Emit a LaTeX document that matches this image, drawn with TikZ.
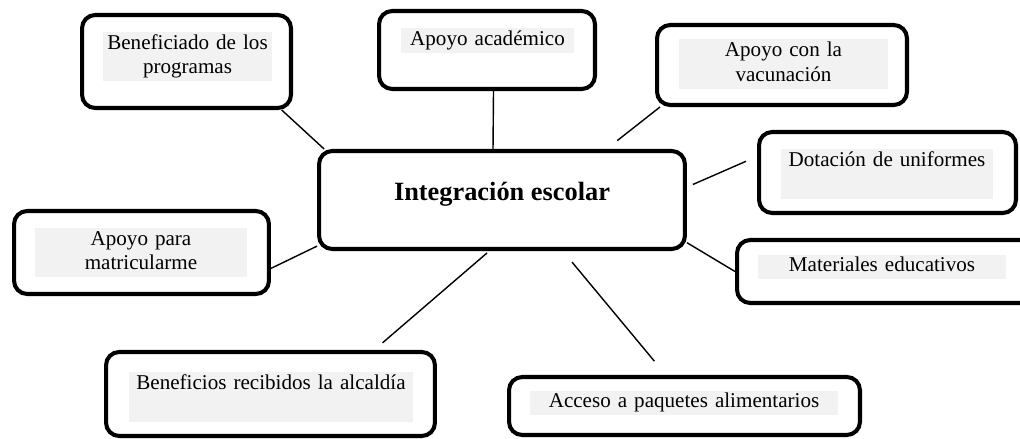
\documentclass[tikz,border=0pt]{standalone}
\usepackage{fontspec}
\setmainfont{Liberation Serif}
\usepackage{tikz}
\usetikzlibrary{positioning, calc}

\tikzset{
    bubble/.style={draw, line width=2.3pt, rounded corners=7.5pt, inner sep=0pt},
    tag/.style={fill=black!5, inner xsep=0pt, inner ysep=0pt, align=center, font=\fontsize{12}{14}\selectfont},
    spoke/.style={line width=0.8pt}
}

\begin{document}
\begin{tikzpicture}[x=0.02cm, y=-0.02cm]
    \useasboundingbox (0,0) rectangle (1020,439);
    \clip (0,0) rectangle (1020,439);

    \node[bubble, minimum width=7.32cm, minimum height=1.96cm, font=\fontsize{15}{18}\selectfont\bfseries, text height=10pt, text depth=10pt] (hub) at (502,200) {Integración escolar};

    \node[bubble, minimum width=4.18cm, minimum height=1.86cm] (benef) at (186.5,61.5) {};
    \node[tag, text width=3.38cm] (benef-t) at (187.5,56.5) {\strut Beneficiado de los\\\strut programas};

    \node[bubble, minimum width=4.32cm, minimum height=1.56cm] (acad) at (487,50) {};
    \node[tag, text width=3.46cm] (acad-t) at (487.5,40.5) {\strut Apoyo académico};

    \node[bubble, minimum width=5.00cm, minimum height=1.60cm] (vacun) at (782,65) {};
    \node[tag, text width=4.18cm] (vacun-t) at (783.5,64) {\strut Apoyo con la\\\strut vacunación};

    \node[bubble, minimum width=5.14cm, minimum height=1.62cm] (dotac) at (887.5,172.5) {};
    \node[tag, text width=4.24cm] (dotac-t) at (887,174) {\strut Dotación de uniformes\\\strut};

    \node[bubble, minimum width=6.00cm, minimum height=1.26cm] (mater) at (887,271.5) {};
    \node[tag, text width=4.96cm] (mater-t) at (882,267) {\strut Materiales educativos};

    \node[bubble, minimum width=5.10cm, minimum height=1.66cm] (matric) at (141.5,252.5) {};
    \node[tag, text width=4.24cm] (matric-t) at (141,252.5) {\strut Apoyo para\\\strut matricularme};

    \node[bubble, minimum width=6.58cm, minimum height=1.68cm] (recib) at (270.5,394) {};
    \node[tag, text width=5.68cm] (recib-t) at (271,397) {\strut Beneficios recibidos la alcaldía\\\strut};

    \node[bubble, minimum width=7.02cm, minimum height=1.16cm] (acceso) at (684.5,406) {};
    \node[tag, text width=6.16cm] (acceso-t) at (684,403) {\strut Acceso a paquetes alimentarios};

    % spokes from the hub
    \draw[spoke] (benef.-27.4) -- (hub.164.1);
    \draw[spoke] (acad.-81.3) -- (hub.100.4);
    \draw[spoke, shorten <=0.27cm] (hub.26.1) -- (vacun.-161);
    \draw[spoke, shorten <=0.13cm, shorten >=0.24cm] (hub.4) -- (dotac.173.9);
    \draw[spoke] (hub.-13.6) -- (mater.west);
    \draw[spoke] (matric.-7.7) -- (hub.194.2);
    \draw[spoke, shorten <=0.06cm, shorten >=0.22cm] (hub.256.9) -- (recib.23.6);
    \draw[spoke, shorten <=0.29cm, shorten >=0.36cm] (hub.-40.2) -- (acceso.121.5);
\end{tikzpicture}
\end{document}
